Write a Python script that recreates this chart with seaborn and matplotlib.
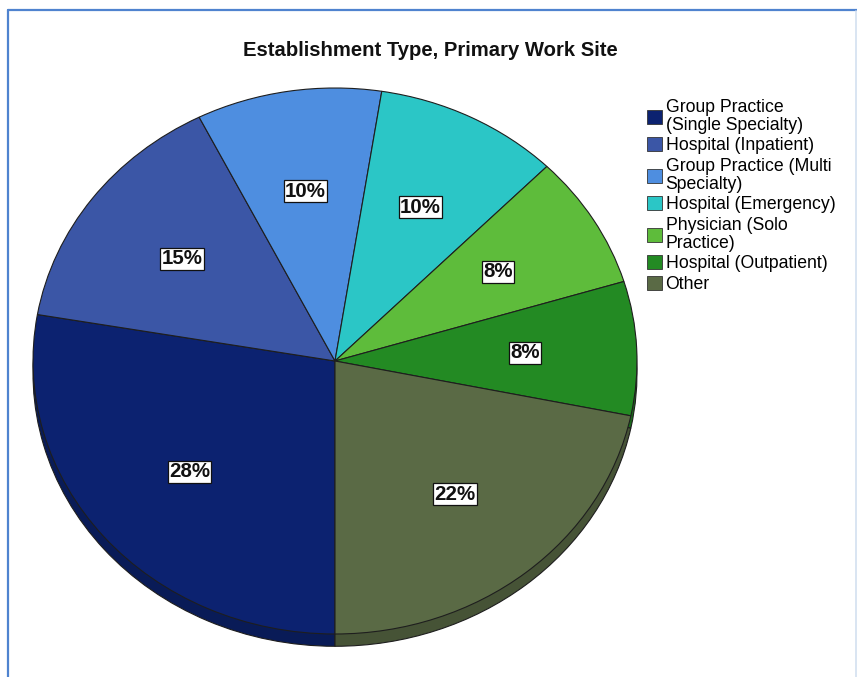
import matplotlib
matplotlib.use("Agg")
import matplotlib.pyplot as plt
from matplotlib.lines import Line2D
from matplotlib.patches import Patch
import seaborn as sns
import numpy as np

# Establishment type of primary work site (percent of respondents)
categories = [
    "Group Practice\n(Single Specialty)",
    "Hospital (Inpatient)",
    "Group Practice (Multi\nSpecialty)",
    "Hospital (Emergency)",
    "Physician (Solo\nPractice)",
    "Hospital (Outpatient)",
    "Other",
]
percents = [28, 15, 10, 10, 8, 8, 22]
slice_colors = ["#0c2270", "#3b56a6", "#4e8ee0", "#2bc6c6",
                "#5ebc3b", "#238a23", "#5a6a45"]
title = "Establishment Type, Primary Work Site"

sns.set_theme(style="white")
plt.rcParams["font.family"] = ["Liberation Sans", "DejaVu Sans"]

W, H = 857, 677
fig = plt.figure(figsize=(W / 100, H / 100), dpi=100)
fig.patch.set_facecolor("white")

# pie placement in pixels: centre and the two radii of the tilted face
cx, cy, rx, ry = 335, 361, 302, 273
x0, x1 = -1.05, 1.05
y0, y1 = -1.10, 1.05
left = (cx + rx * x0) / W
width = rx * (x1 - x0) / W
bottom = (H - (cy - ry * y0)) / H
height = ry * (y1 - y0) / H
ax = fig.add_axes([left, bottom, width, height])

# darker copy shifted down gives the rim of the disc
shade = [tuple(np.array(matplotlib.colors.to_rgb(c)) * 0.78) for c in slice_colors]
ax.pie(percents, colors=shade, startangle=270, counterclock=False,
       center=(0, -0.045),
       wedgeprops=dict(edgecolor="#1e1e1e", linewidth=0.8))

wedges, _, autotexts = ax.pie(
    percents, colors=slice_colors, startangle=270, counterclock=False,
    autopct="%1.0f%%", pctdistance=0.63,
    wedgeprops=dict(edgecolor="#1e1e1e", linewidth=0.8))

for t, v in zip(autotexts, percents):
    t.set_text(f"{v}%")
    t.set_fontsize(14.8)
    t.set_fontweight("bold")
    t.set_color("#111111")
    t.set_bbox(dict(boxstyle="square,pad=0.07", facecolor="white",
                    edgecolor="#111111", linewidth=0.9))

ax.set_aspect("auto")
ax.set_xlim(x0, x1)
ax.set_ylim(y0, y1)
ax.axis("off")

fig.text(430 / W, 1 - 50 / H, title, ha="center", va="center",
         fontsize=14.6, fontweight="bold", color="#111111")

handles = [Patch(facecolor=c, edgecolor="#333333", linewidth=0.6)
           for c in slice_colors]
leg = fig.legend(handles, categories, loc="upper left",
                 bbox_to_anchor=(647 / W, 1 - 99 / H),
                 frameon=False, borderpad=0, borderaxespad=0,
                 handlelength=0.85, handleheight=0.85, handletextpad=0.2,
                 labelspacing=0.2,
                 prop=dict(family="Liberation Sans", size=12.7))
for t in leg.get_texts():
    t.set_color("#000000")
    t.set_linespacing(1.06)

# frame lines around the figure
px = fig.transFigure
def fx(v):
    return v / W
def fy(v):
    return 1 - v / H
fig.add_artist(Line2D([fx(8), fx(857)], [fy(10), fy(10)], color="#4f83cf",
                      linewidth=1.6, transform=px))
fig.add_artist(Line2D([fx(8), fx(8)], [fy(10), fy(677)], color="#4f83cf",
                      linewidth=1.6, transform=px))
fig.add_artist(Line2D([fx(855.5), fx(855.5)], [fy(11), fy(677)], color="#d3e0f0",
                      linewidth=1.2, transform=px))

fig.savefig("out.png", dpi=100, facecolor="white")
